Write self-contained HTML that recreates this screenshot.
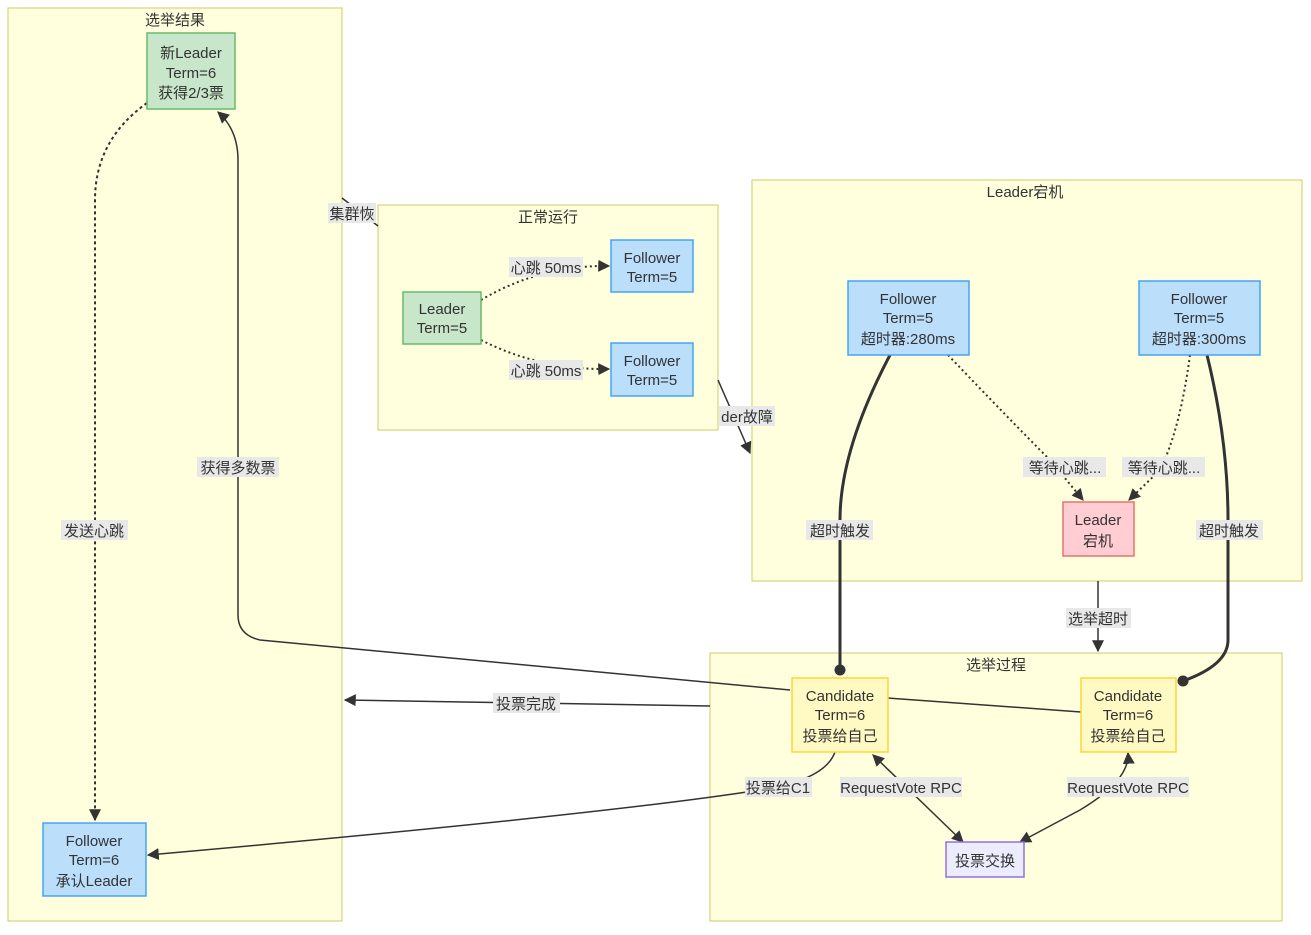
<!DOCTYPE html>
<html><head><meta charset="utf-8"><style>
body{margin:0;background:#fff;}
svg text{font-family:"Liberation Sans","Noto Sans CJK SC",sans-serif;font-size:15px;fill:#333;}
</style></head><body>
<svg width="1311" height="930" xmlns="http://www.w3.org/2000/svg">
<defs>
<marker id="a" viewBox="0 0 10 10" refX="9" refY="5" markerWidth="12" markerHeight="12" markerUnits="userSpaceOnUse" orient="auto-start-reverse"><path d="M0,0L10,5L0,10z" fill="#333"/></marker>
<marker id="c" viewBox="0 0 10 10" refX="5" refY="5" markerWidth="11" markerHeight="11" markerUnits="userSpaceOnUse"><circle cx="5" cy="5" r="5" fill="#333"/></marker>
</defs>
<g fill="#ffffde" stroke="#cccc66" stroke-width="1">
<rect x="8" y="8" width="334" height="913"/>
<rect x="378" y="205" width="340" height="225"/>
<rect x="752" y="180" width="550" height="401"/>
<rect x="710" y="653" width="572" height="268"/>
</g>
<g text-anchor="middle">
<text x="175" y="25">选举结果</text>
<text x="548" y="222">正常运行</text>
<text x="1025" y="197">Leader宕机</text>
<text x="996" y="670">选举过程</text>
</g>
<g fill="none" stroke="#333" stroke-width="2">
<path d="M147,103 Q95,140 95,200 L95,820" stroke-dasharray="3,3" marker-end="url(#a)"/>
<path d="M790,690 L260,640 Q238,635 238,615 L238,160 Q238,130 218,112" stroke-width="1.5" marker-end="url(#a)"/>
<path d="M888,698 L1081,712" stroke-width="1.5"/>
<path d="M710,706 L345,700" stroke-width="1.5" marker-end="url(#a)"/>
<path d="M835,752 Q825,780 760,790 Q600,815 148,855" stroke-width="1.5" marker-end="url(#a)"/>
<path d="M481,300 Q540,265 609,266" stroke-dasharray="2,3" marker-end="url(#a)"/>
<path d="M481,340 Q540,370 609,369" stroke-dasharray="2,3" marker-end="url(#a)"/>
<path d="M342,198 L378,226" stroke-width="1.5"/>
<path d="M718,380 L750,453" stroke-width="1.5" marker-end="url(#a)"/>
<path d="M890,355 Q840,450 840,520 L840,670" stroke-width="3" marker-end="url(#c)"/>
<path d="M1207,355 Q1228,440 1228,520 L1228,640 Q1228,665 1183,681" stroke-width="3" marker-end="url(#c)"/>
<path d="M948,355 Q1010,420 1050,460 L1083,500" stroke-dasharray="2,3" marker-end="url(#a)"/>
<path d="M1190,355 Q1180,430 1160,470 L1129,500" stroke-dasharray="2,3" marker-end="url(#a)"/>
<path d="M1098,581 L1098,651" stroke-width="1.5" marker-end="url(#a)"/>
<path d="M873,755 L963,842" stroke-width="1.5" marker-start="url(#a)" marker-end="url(#a)"/>
<path d="M1128,753 Q1130,780 1080,810 L1020,842" stroke-width="1.5" marker-start="url(#a)" marker-end="url(#a)"/>
</g>
<g fill="#e8e8e8">
<rect x="328" y="203" width="48" height="20"/>
<rect x="509" y="257" width="74" height="20"/>
<rect x="509" y="360" width="74" height="20"/>
<rect x="719" y="406" width="56" height="20"/>
<rect x="197" y="457" width="82" height="20"/>
<rect x="61" y="520" width="67" height="20"/>
<rect x="806" y="520" width="67" height="20"/>
<rect x="1196" y="520" width="67" height="20"/>
<rect x="1023" y="457" width="83" height="20"/>
<rect x="1122" y="457" width="83" height="20"/>
<rect x="1066" y="608" width="65" height="20"/>
<rect x="493" y="693" width="67" height="20"/>
<rect x="745" y="777" width="67" height="20"/>
<rect x="840" y="777" width="122" height="20"/>
<rect x="1067" y="777" width="122" height="20"/>
</g>
<g text-anchor="middle">
<text x="352" y="219">集群恢</text>
<text x="546" y="273">心跳 50ms</text>
<text x="546" y="376">心跳 50ms</text>
<text x="747" y="422">der故障</text>
<text x="238" y="473">获得多数票</text>
<text x="94" y="536">发送心跳</text>
<text x="840" y="536">超时触发</text>
<text x="1229" y="536">超时触发</text>
<text x="1065" y="473">等待心跳...</text>
<text x="1164" y="473">等待心跳...</text>
<text x="1098" y="624">选举超时</text>
<text x="526" y="709">投票完成</text>
<text x="778" y="793">投票给C1</text>
<text x="901" y="793">RequestVote RPC</text>
<text x="1128" y="793">RequestVote RPC</text>
</g>
<g stroke-width="1.5">
<rect x="147" y="33" width="88" height="76" fill="#c8e6c9" stroke="#66bb6a"/>
<rect x="403" y="292" width="78" height="52" fill="#c8e6c9" stroke="#66bb6a"/>
<rect x="43" y="823" width="103" height="73" fill="#bbdefb" stroke="#42a5f5"/>
<rect x="611" y="240" width="82" height="52" fill="#bbdefb" stroke="#42a5f5"/>
<rect x="611" y="343" width="82" height="53" fill="#bbdefb" stroke="#42a5f5"/>
<rect x="848" y="281" width="121" height="74" fill="#bbdefb" stroke="#42a5f5"/>
<rect x="1139" y="281" width="121" height="74" fill="#bbdefb" stroke="#42a5f5"/>
<rect x="1063" y="502" width="71" height="54" fill="#ffcdd2" stroke="#e57373"/>
<rect x="792" y="678" width="96" height="74" fill="#fff9c4" stroke="#fdd835"/>
<rect x="1081" y="678" width="95" height="74" fill="#fff9c4" stroke="#fdd835"/>
<rect x="946" y="842" width="78" height="35" fill="#ececff" stroke="#9370db"/>
</g>
<g text-anchor="middle">
<text x="191" y="58">新Leader</text><text x="191" y="78">Term=6</text><text x="191" y="98">获得2/3票</text>
<text x="442" y="314">Leader</text><text x="442" y="333">Term=5</text>
<text x="94" y="846">Follower</text><text x="94" y="865">Term=6</text><text x="94" y="886">承认Leader</text>
<text x="652" y="263">Follower</text><text x="652" y="282">Term=5</text>
<text x="652" y="366">Follower</text><text x="652" y="385">Term=5</text>
<text x="908" y="304">Follower</text><text x="908" y="323">Term=5</text><text x="908" y="344">超时器:280ms</text>
<text x="1199" y="304">Follower</text><text x="1199" y="323">Term=5</text><text x="1199" y="344">超时器:300ms</text>
<text x="1098" y="525">Leader</text><text x="1098" y="546">宕机</text>
<text x="840" y="701">Candidate</text><text x="840" y="720">Term=6</text><text x="840" y="741">投票给自己</text>
<text x="1128" y="701">Candidate</text><text x="1128" y="720">Term=6</text><text x="1128" y="741">投票给自己</text>
<text x="985" y="866">投票交换</text>
</g>
</svg>
</body></html>
